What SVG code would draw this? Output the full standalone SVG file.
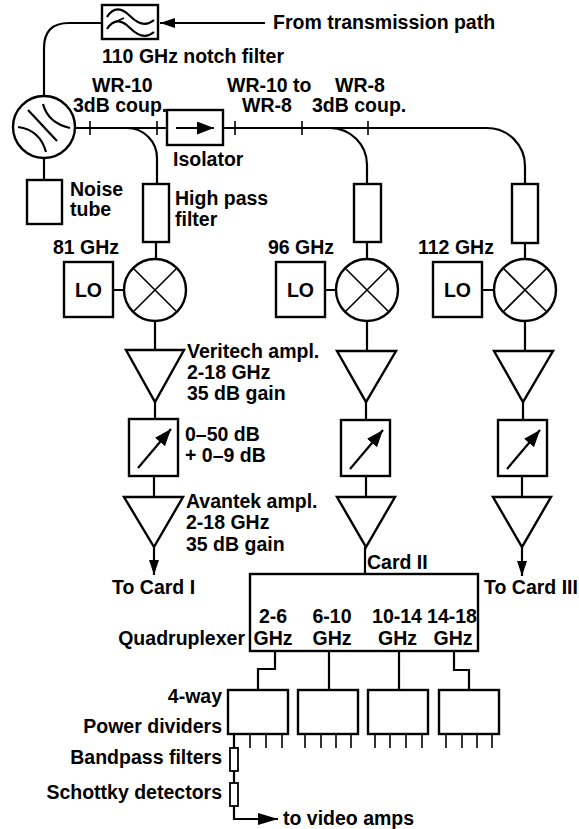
<svg xmlns="http://www.w3.org/2000/svg" width="579" height="829" viewBox="0 0 579 829">
<defs>
<style>
text{font-family:"Liberation Sans",Arial,sans-serif;font-weight:bold;font-size:19.5px;fill:#000}
.e{text-anchor:end}
.m{text-anchor:middle}
.s{fill:none;stroke:#000;stroke-width:2.2}
.b{fill:#fff;stroke:#000;stroke-width:2.4}
.t{fill:none;stroke:#000;stroke-width:1.6}
</style>
<marker id="ah" viewBox="0 0 15 10" refX="15" refY="5" markerWidth="15" markerHeight="10" orient="auto" markerUnits="userSpaceOnUse"><path d="M0 0L15 5L0 10z" fill="#000"/></marker>
<marker id="ah2" viewBox="0 0 20 12" refX="20" refY="6" markerWidth="20" markerHeight="12" orient="auto" markerUnits="userSpaceOnUse"><path d="M0 0L20 6L0 12z" fill="#000"/></marker>
<marker id="ah3" viewBox="0 0 17 13" refX="17" refY="6.5" markerWidth="17" markerHeight="13" orient="auto" markerUnits="userSpaceOnUse"><path d="M0 0L17 6.5L0 13z" fill="#000"/></marker>
</defs>
<rect width="579" height="829" fill="#fff"/>

<g id="connectors" class="s">
<path d="M265 23H160" marker-end="url(#ah)"/>
<path d="M44 96V48Q44 23 69 23H102"/>
<path d="M75 128H167M223 128H487A38 38 0 0 1 525 166V184"/>
<path d="M127 128A30 30 0 0 1 157 158V184"/>
<path d="M330 128A37 37 0 0 1 367 165V184"/>
<path d="M90 121V135M157 121V135M235 121V135M302 121V135M368 121V135" class="t"/>
<path d="M44 158V180"/>
<path d="M156 242V259M367 242V259M525 243V259"/>
<path d="M113 290H124M325 290H336M482 290H494"/>
<path d="M155 321V350M367 321V351M525 321V351"/>
<path d="M155 402V419M366 402V420M523 402V420"/>
<path d="M154 476V497M366 476V497M522 476V497"/>
<path d="M154 547V575" marker-end="url(#ah)"/>
<path d="M522 547V576" marker-end="url(#ah)"/>
<path d="M365 547V574"/>
<path d="M275 651V669H258V690"/>
<path d="M329 651V690"/>
<path d="M399 651V690"/>
<path d="M454 651V670H469V690"/>
<path d="M234 734V748M234 771V783"/>
<path d="M234 806V819H278" marker-end="url(#ah2)"/>
</g>

<g id="notch-filter">
<rect x="102" y="5" width="56" height="34" class="b"/>
<path d="M107 17C114 6 122 8 130 16S146 27 154 20" class="s"/>
<path d="M107 29C114 18 122 20 130 28S146 39 154 32" class="s"/>
<path d="M113 23L124 18" class="t"/>
<text x="102" y="63">110 GHz notch filter</text>
<text x="273" y="29">From transmission path</text>
</g>

<g id="wr10-coupler">
<circle cx="44" cy="127" r="31" class="b"/>
<path d="M43 104Q48 123 70 128" class="s"/>
<path d="M18 127Q40 130 46 152" class="s"/>
<path d="M28 110L57 141" class="s"/>
<text x="92" y="92">WR-10</text>
<text x="73" y="112">3dB coup.</text>
</g>

<g id="transition">
<text x="227" y="92">WR-10 to</text>
<text x="242" y="112">WR-8</text>
</g>

<g id="wr8-coupler">
<text x="335" y="92">WR-8</text>
<text x="312" y="112">3dB coup.</text>
</g>

<g id="isolator">
<rect x="167" y="110" width="56" height="35" class="b"/>
<path d="M176 128H214" class="s" marker-end="url(#ah3)"/>
<text x="173" y="166">Isolator</text>
</g>

<g id="noise-tube">
<rect x="27" y="180" width="35" height="44" class="b"/>
<text x="70" y="196">Noise</text>
<text x="70" y="216">tube</text>
</g>

<g id="hpf1">
<rect x="143" y="184" width="26" height="58" class="b"/>
<text x="175" y="205">High pass</text>
<text x="175" y="226">filter</text>
</g>
<g id="hpf2"><rect x="354" y="184" width="27" height="58" class="b"/></g>
<g id="hpf3"><rect x="512" y="184" width="26" height="59" class="b"/></g>

<g id="lo1">
<rect x="64" y="262" width="49" height="55" class="b"/>
<text x="88.5" y="297" class="m">LO</text>
<text x="53" y="254">81 GHz</text>
</g>
<g id="lo2">
<rect x="276" y="262" width="49" height="55" class="b"/>
<text x="300.5" y="297" class="m">LO</text>
<text x="268" y="254">96 GHz</text>
</g>
<g id="lo3">
<rect x="433" y="262" width="49" height="55" class="b"/>
<text x="457.5" y="297" class="m">LO</text>
<text x="418" y="254">112 GHz</text>
</g>

<g id="mixer1">
<circle cx="155" cy="290" r="31" class="b"/>
<path d="M133 268L177 312M177 268L133 312" class="t"/>
</g>
<g id="mixer2">
<circle cx="367" cy="290" r="31" class="b"/>
<path d="M345 268L389 312M389 268L345 312" class="t"/>
</g>
<g id="mixer3">
<circle cx="525" cy="290" r="31" class="b"/>
<path d="M503 268L547 312M547 268L503 312" class="t"/>
</g>

<g id="veritech1">
<path d="M126 350H184L155 402z" class="b"/>
<text x="187" y="358">Veritech ampl.</text>
<text x="187" y="379">2-18 GHz</text>
<text x="187" y="400">35 dB gain</text>
</g>
<g id="veritech2"><path d="M337 351H396L366 402z" class="b"/></g>
<g id="veritech3"><path d="M494 351H553L523 402z" class="b"/></g>

<g id="atten1">
<rect x="129" y="419" width="49" height="57" class="b"/>
<path d="M138 468L171 429" class="s" marker-end="url(#ah3)"/>
<text x="185" y="441">0–50 dB</text>
<text x="185" y="462">+ 0–9 dB</text>
</g>
<g id="atten2">
<rect x="341" y="420" width="49" height="56" class="b"/>
<path d="M350 469L383 430" class="s" marker-end="url(#ah3)"/>
</g>
<g id="atten3">
<rect x="498" y="420" width="49" height="56" class="b"/>
<path d="M507 469L540 430" class="s" marker-end="url(#ah3)"/>
</g>

<g id="avantek1">
<path d="M124 497H183L154 547z" class="b"/>
<text x="186" y="508">Avantek ampl.</text>
<text x="186" y="529">2-18 GHz</text>
<text x="186" y="551">35 dB gain</text>
</g>
<g id="avantek2"><path d="M337 497H395L366 547z" class="b"/></g>
<g id="avantek3"><path d="M493 497H551L522 547z" class="b"/></g>

<g id="card-labels">
<text x="112" y="594">To Card I</text>
<text x="367" y="569">Card II</text>
<text x="484" y="594">To Card III</text>
</g>

<g id="quadruplexer">
<rect x="250" y="574" width="228" height="77" class="b"/>
<text x="273" y="623" class="m">2-6</text>
<text x="273" y="645" class="m">GHz</text>
<text x="332" y="623" class="m">6-10</text>
<text x="332" y="645" class="m">GHz</text>
<text x="397" y="623" class="m">10-14</text>
<text x="397.5" y="645" class="m">GHz</text>
<text x="452" y="623" class="m">14-18</text>
<text x="453" y="645" class="m">GHz</text>
<text x="245" y="645" class="e">Quadruplexer</text>
</g>

<g id="divider1">
<rect x="228" y="690" width="60" height="44" class="b"/>
<path d="M250 734V748M266 734V748M282 734V748" class="t"/>
</g>
<g id="divider2">
<rect x="298" y="690" width="60" height="44" class="b"/>
<path d="M305 734V748M321 734V748M336 734V748M351 734V748" class="t"/>
</g>
<g id="divider3">
<rect x="368" y="690" width="60" height="44" class="b"/>
<path d="M375 734V748M390 734V748M406 734V748M422 734V748" class="t"/>
</g>
<g id="divider4">
<rect x="439" y="690" width="60" height="44" class="b"/>
<path d="M446 734V748M462 734V748M477 734V748M492 734V748" class="t"/>
</g>

<g id="bandpass">
<rect x="230" y="748" width="8" height="23" class="b" style="stroke-width:1.8"/>
</g>
<g id="schottky">
<rect x="230" y="783" width="8" height="23" class="b" style="stroke-width:1.8"/>
</g>

<g id="left-labels">
<text x="222" y="703" class="e">4-way</text>
<text x="222" y="733" class="e">Power dividers</text>
<text x="222" y="764" class="e">Bandpass filters</text>
<text x="222" y="799" class="e">Schottky detectors</text>
<text x="283" y="825">to video amps</text>
</g>
</svg>
